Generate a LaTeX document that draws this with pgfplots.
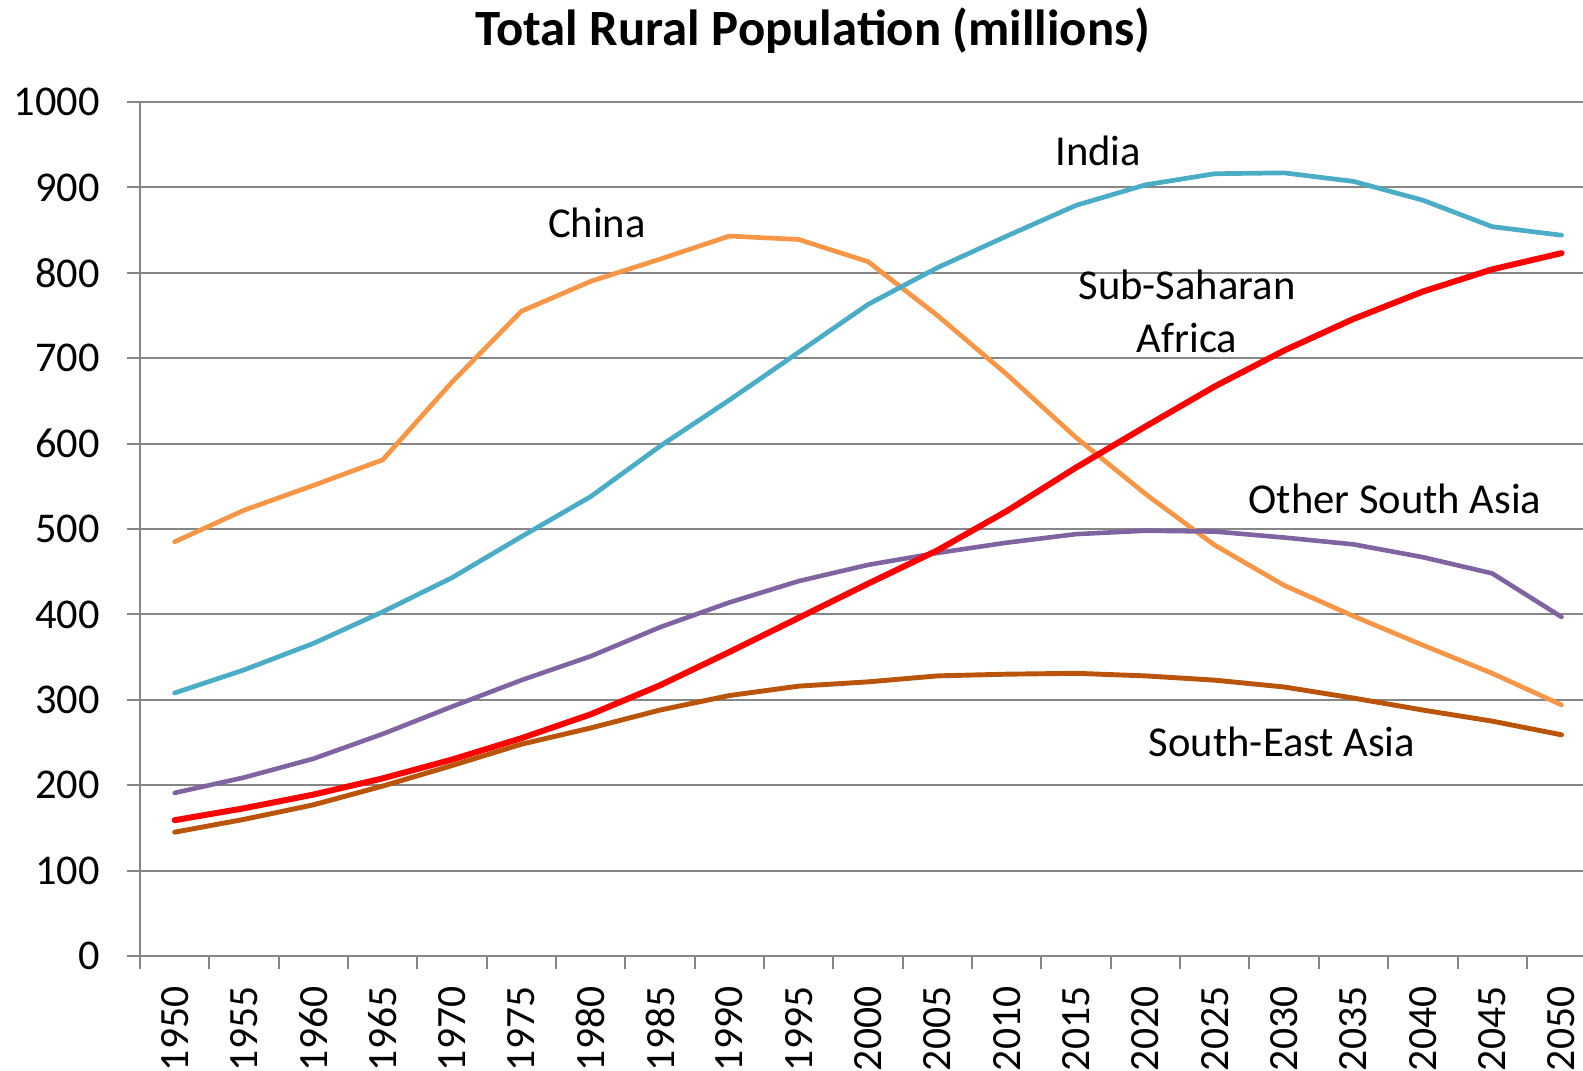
\documentclass[border=0pt]{standalone}
\usepackage{fontspec}
\setmainfont{Carlito}
\usepackage{pgfplots}
\pgfplotsset{compat=1.18}
\definecolor{gridgray}{RGB}{134,134,134}
\definecolor{cChina}{RGB}{247,150,70}
\definecolor{cIndia}{RGB}{75,172,198}
\definecolor{cSSA}{RGB}{255,0,0}
\definecolor{cOSA}{RGB}{128,100,162}
\definecolor{cSEA}{RGB}{186,84,8}
\pgfplotstableread{
x China India SSA OSA SEA
0  485 308 159 191 145
1  522 335 173 209 160
2  551 366 189 231 177
3  581 403 208 260 199
4  672 443 230 292 223
5  755 491 255 323 248
6  790 538 283 351 267
7  816 597 317 385 288
8  843 651 356 414 305
9  839 707 396 439 316
10 813 763 436 458 321
11 750 806 475 472 328
12 681 843 521 484 330
13 607 879 572 494 331
14 541 903 620 498 328
15 481 916 667 497 323
16 434 917 709 490 315
17 398 907 746 482 302
18 364 885 778 467 288
19 331 854 804 448 275
20 294 844 823 397 259
}\datatable
\begin{document}
\begin{tikzpicture}
\useasboundingbox (-70pt,-57pt) rectangle (721.5pt,478pt);
\begin{axis}[
  at={(0,0)}, anchor=south west,
  scale only axis, width=721.5pt, height=427pt,
  xmin=-0.5, xmax=20.31, ymin=0, ymax=1000,
  axis x line*=bottom, axis y line*=left,
  axis line style={draw=gridgray, line width=1pt, -},
  ytick={0,100,...,1000},
  ymajorgrids, grid style={draw=gridgray, line width=1pt},
  xtick={0,...,20},
  xticklabels={1950,1955,1960,1965,1970,1975,1980,1985,1990,1995,2000,2005,2010,2015,2020,2025,2030,2035,2040,2045,2050},
  minor xtick={-0.5,0.5,...,19.5},
  every major x tick/.append style={draw=none},
  tick align=outside,
  major tick length=6.5pt, minor tick length=6.5pt,
  tick style={draw=gridgray, line width=1pt},
  /pgf/number format/assume math mode=true,
  /pgf/number format/1000 sep={},
  yticklabel style={font=\fontsize{21.2}{25}\selectfont, xshift=-10.2pt},
  xticklabel style={font=\fontsize{20.8}{25}\selectfont, yshift=-5.3pt, rotate=90, anchor=east},
  every axis plot/.append style={line cap=round, line join=round},
]
\addplot[cChina, line width=2.35pt] table[x=x, y=China] {\datatable};
\addplot[cIndia, line width=2.35pt] table[x=x, y=India] {\datatable};
\addplot[cOSA, line width=2.3pt] table[x=x, y=OSA] {\datatable};
\addplot[cSEA, line width=2.45pt] table[x=x, y=SEA] {\datatable};
\addplot[cSSA, line width=3pt] table[x=x, y=SSA] {\datatable};
\node[font=\fontsize{21.3}{26.5}\selectfont] at (axis cs:13.32,943) {India};
\node[font=\fontsize{21.3}{26.5}\selectfont] at (axis cs:6.09,859) {China};
\node[font=\fontsize{21.3}{26.5}\selectfont, align=center] at (axis cs:14.6,755) {Sub-Saharan\\Africa};
\node[font=\fontsize{21.3}{26.5}\selectfont] at (axis cs:17.6,535) {Other South Asia};
\node[font=\fontsize{21.3}{26.5}\selectfont] at (axis cs:15.97,251) {South-East Asia};
\end{axis}
\node[anchor=base, font=\bfseries\fontsize{25.4}{30}\selectfont] at (336.5pt,455pt) {Total Rural Population (millions)};
\end{tikzpicture}
\end{document}
